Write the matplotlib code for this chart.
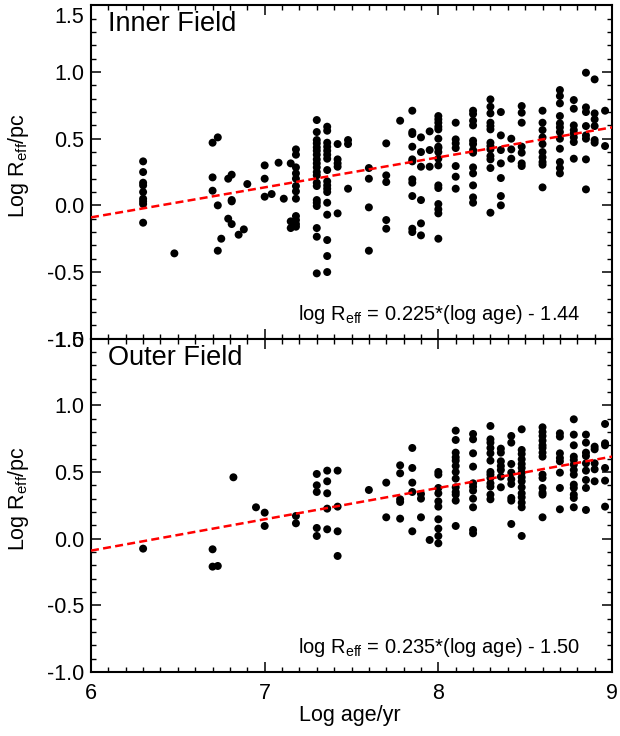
import numpy as np  #Arrays
import matplotlib
matplotlib.use("Agg")
import matplotlib.pyplot as plt  #Plotting
from matplotlib.ticker import MultipleLocator
from matplotlib.transforms import ScaledTranslation


#Columns of log age and the Log Reff values at each age (inner field)
inner_age = [6.30, 6.48, 6.70, 6.73, 6.75, 6.79, 6.81, 6.85, 6.88, 6.90, 7.00, 7.04, 7.08, 7.11, 7.15,
             7.18, 7.30, 7.36, 7.42, 7.48, 7.60, 7.70, 7.78, 7.85, 7.90, 7.95, 8.00, 8.10, 8.20, 8.30,
             8.36, 8.42, 8.48, 8.60, 8.70, 8.78, 8.85, 8.90, 8.96]
inner_reff = [
    [0.33, 0.25, 0.17, 0.15, 0.10, 0.05, 0.03, 0.01, -0.13],
    [-0.36],
    [0.47, 0.21, 0.11],
    [0.51, 0.00, -0.34],
    [-0.25],
    [0.20, -0.10],
    [0.23, 0.04, 0.03, -0.14],
    [-0.22],
    [-0.18],
    [0.16],
    [0.30, 0.20, 0.065],
    [0.085],
    [0.32],
    [0.05],
    [0.315, -0.12, -0.17],
    [0.42, 0.38, 0.285, 0.24, 0.20, 0.145, 0.105, 0.05, -0.08, -0.11, -0.14, -0.16],
    [0.64, 0.55, 0.49, 0.465, 0.435, 0.41, 0.38, 0.345, 0.315, 0.285, 0.25, 0.225, 0.17, 0.145,
     0.04, 0.02, -0.005, -0.17, -0.235, -0.51],
    [0.59, 0.56, 0.47, 0.44, 0.41, 0.38, 0.35, 0.265, 0.18, 0.15, 0.125, 0.10, 0.02, -0.07,
     -0.26, -0.38, -0.50],
    [0.46, 0.345, 0.315, 0.29, -0.06],
    [0.49, 0.46, 0.125],
    [0.28, 0.20, -0.015, -0.34],
    [0.465, 0.225, 0.175, -0.11, -0.175],
    [0.635],
    [0.71, 0.55, 0.535, 0.44, 0.345, 0.33, 0.195, 0.17, 0.07, -0.175, -0.20],
    [0.51, 0.40, 0.29, 0.04, -0.135, -0.225],
    [0.555, 0.415, 0.29],
    [0.67, 0.645, 0.62, 0.59, 0.57, 0.50, 0.44, 0.43, 0.40, 0.35, 0.30, 0.15, 0.13, 0.01,
     -0.03, -0.06, -0.25],
    [0.62, 0.495, 0.465, 0.43, 0.295, 0.215, 0.125],
    [0.71, 0.685, 0.635, 0.60, 0.485, 0.46, 0.415, 0.395, 0.285, 0.24, 0.15, 0.06, 0.02],
    [0.795, 0.74, 0.69, 0.62, 0.595, 0.57, 0.47, 0.445, 0.42, 0.37, 0.345, 0.28, -0.055],
    [0.70, 0.525, 0.415, 0.315, 0.205, 0.07, 0.0],
    [0.50, 0.42, 0.35],
    [0.745, 0.695, 0.62, 0.44, 0.395, 0.315, 0.295],
    [0.71, 0.62, 0.565, 0.51, 0.46, 0.40, 0.36, 0.325, 0.305, 0.135],
    [0.865, 0.82, 0.765, 0.67, 0.615, 0.585, 0.55, 0.50, 0.425, 0.325, 0.28, 0.24],
    [0.79, 0.725, 0.60, 0.565, 0.54, 0.51, 0.475, 0.35],
    [0.995, 0.735, 0.70, 0.595, 0.525, 0.50, 0.345, 0.12],
    [0.945, 0.69, 0.645, 0.595, 0.49, 0.47],
    [0.71, 0.445],
]

#Columns of log age and the Log Reff values at each age (outer field)
outer_age = [6.30, 6.70, 6.73, 6.82, 6.95, 7.00, 7.18, 7.30, 7.36, 7.42, 7.60, 7.70, 7.78, 7.85,
             7.90, 7.95, 8.00, 8.10, 8.20, 8.30, 8.36, 8.42, 8.48, 8.60, 8.70, 8.78, 8.85, 8.90, 8.96]
outer_reff = [
    [-0.075],
    [-0.08, -0.21],
    [-0.205],
    [0.46],
    [0.235],
    [0.195, 0.095],
    [0.17, 0.115],
    [0.485, 0.40, 0.35, 0.08, 0.02],
    [0.51, 0.43, 0.34, 0.225, 0.07],
    [0.51, 0.24, 0.055, -0.13],
    [0.365],
    [0.42, 0.16],
    [0.55, 0.49, 0.295, 0.275, 0.15],
    [0.68, 0.53, 0.42, 0.35, 0.055],
    [0.335, 0.30, 0.16],
    [-0.01],
    [0.50, 0.48, 0.38, 0.34, 0.28, 0.24, 0.145, 0.075, 0.02, -0.035],
    [0.81, 0.74, 0.645, 0.61, 0.585, 0.545, 0.50, 0.45, 0.385, 0.35, 0.33, 0.285, 0.095],
    [0.785, 0.745, 0.64, 0.54, 0.415, 0.39, 0.36, 0.30, 0.235, 0.065, 0.04],
    [0.845, 0.745, 0.72, 0.68, 0.64, 0.585, 0.50, 0.48, 0.455, 0.415, 0.39, 0.33, 0.295],
    [0.675, 0.645, 0.58, 0.545, 0.515, 0.465, 0.385],
    [0.77, 0.72, 0.56, 0.495, 0.445, 0.41, 0.305, 0.285, 0.11],
    [0.82, 0.665, 0.635, 0.595, 0.56, 0.53, 0.495, 0.46, 0.43, 0.385, 0.34, 0.31, 0.27, 0.235, 0.02],
    [0.835, 0.80, 0.77, 0.735, 0.70, 0.68, 0.645, 0.615, 0.48, 0.455, 0.38, 0.345, 0.33, 0.16],
    [0.79, 0.765, 0.64, 0.605, 0.58, 0.495, 0.38, 0.22],
    [0.895, 0.78, 0.70, 0.615, 0.59, 0.555, 0.515, 0.48, 0.405, 0.38, 0.33, 0.305, 0.235],
    [0.78, 0.72, 0.645, 0.62, 0.565, 0.51, 0.44, 0.38, 0.215],
    [0.69, 0.67, 0.565, 0.52, 0.43],
    [0.86, 0.715, 0.70, 0.53, 0.435, 0.24],
]

panel_titles = ["Inner Field", "Outer Field"]
fit_slope = [0.225, 0.235]
fit_icept = [-1.44, -1.50]
fit_labels = ["0.225", "0.235"]
icept_labels = ["1.44", "1.50"]

plt.rcParams["font.family"] = ["Liberation Sans", "DejaVu Sans"]
plt.rcParams["mathtext.fontset"] = "custom"
plt.rcParams["mathtext.rm"] = "Liberation Sans"
plt.rcParams["mathtext.it"] = "Liberation Sans"


#Expand column data into flat x, y arrays
def flatten(ages, values):
    xs, ys = [], []
    for a, col in zip(ages, values):
        for v in col:
            xs.append(a)
            ys.append(v)
    return np.array(xs), np.array(ys)


#Style one panel: IDL-like inward ticks on all sides
def style_axes(ax):
    ax.set_xlim(6, 9)
    ax.set_ylim(-1.0, 1.5)
    ax.xaxis.set_major_locator(MultipleLocator(1))
    ax.xaxis.set_minor_locator(MultipleLocator(0.1))
    ax.yaxis.set_major_locator(MultipleLocator(0.5))
    ax.yaxis.set_minor_locator(MultipleLocator(0.1))
    ax.yaxis.set_major_formatter(plt.FuncFormatter(lambda v, p: f"{v:.1f}"))
    ax.tick_params(which="both", direction="in", top=True, right=True, labelsize=15.5)
    ax.tick_params(which="major", length=7.5, width=1.1)
    ax.tick_params(which="minor", length=3.8, width=1.0)
    ax.tick_params(axis="y", pad=5)
    ax.tick_params(axis="x", pad=8)
    for s in ax.spines.values():
        s.set_linewidth(1.5)


fig = plt.figure(figsize=(6.2, 7.36), dpi=100)
ax_top = fig.add_axes([0.1468, 0.5398, 0.8403, 0.4529])
ax_bot = fig.add_axes([0.1468, 0.087, 0.8403, 0.4529])

panels = [(ax_top, inner_age, inner_reff), (ax_bot, outer_age, outer_reff)]
line_x = np.array([6.0, 9.0])

for i, (ax, ages, values) in enumerate(panels):
    x, y = flatten(ages, values)
    ax.scatter(x, y, s=33, color="black", edgecolors="none", zorder=3)  #Data points
    ax.plot(line_x, fit_slope[i] * line_x + fit_icept[i], color="red", lw=1.8,
            dashes=(3.2, 1.7), zorder=4)  #Linear fit
    style_axes(ax)
    ax.text(0.033, 0.922, panel_titles[i], transform=ax.transAxes, fontsize=19.5,
            ha="left", va="baseline")
    ax.text(0.9386, 0.057, r"log R$_{\mathrm{eff}}$ = " + fit_labels[i] + "*(log age) - " + icept_labels[i],
            transform=ax.transAxes, fontsize=14.5, ha="right", va="baseline")
    ax.set_ylabel(r"Log R$_{\mathrm{eff}}$/pc", fontsize=15.5)
    ax.yaxis.set_label_coords(-0.115, 0.52)

ax_top.tick_params(axis="x", labelbottom=False)
ax_bot.set_xlabel("Log age/yr", fontsize=15.5)
ax_bot.xaxis.set_label_coords(0.497, -0.10)

#The top "1.5" label sits a little lower so it stays inside the figure
fig.canvas.draw()
for t in ax_top.yaxis.get_major_ticks():
    if abs(t.get_loc() - 1.5) < 1e-6:
        t.label1.set_transform(t.label1.get_transform() + ScaledTranslation(0, -7 / 72, fig.dpi_scale_trans))

fig.savefig("out.png", dpi=100)
